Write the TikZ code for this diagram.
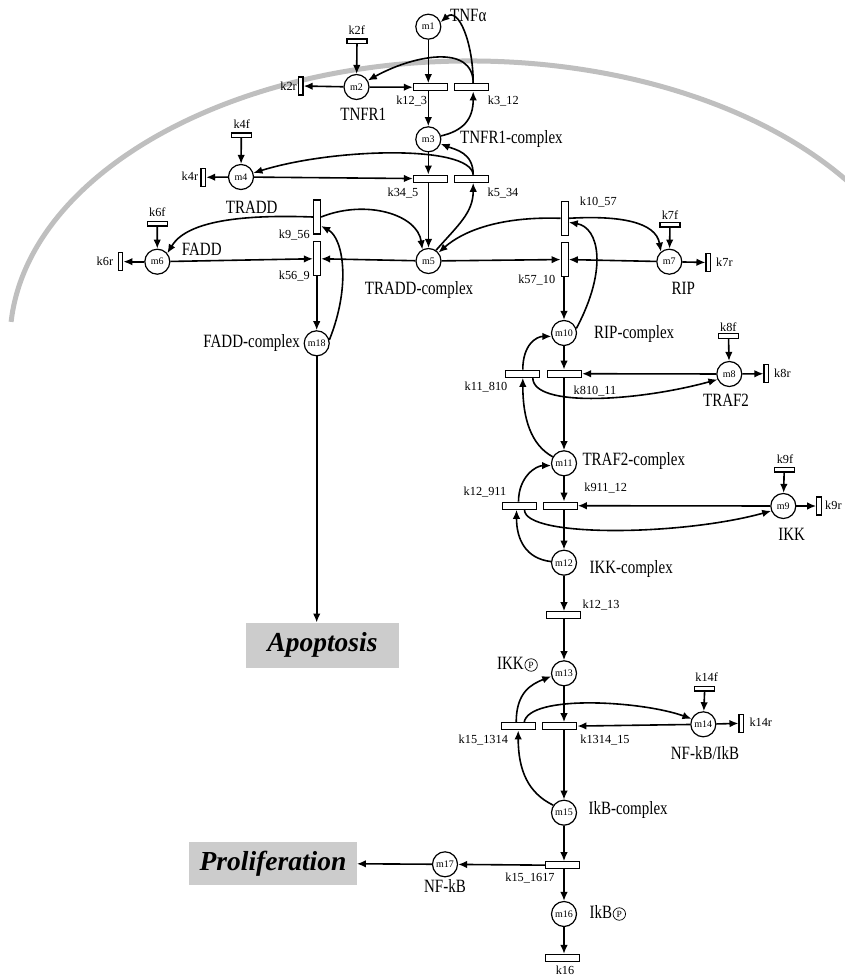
\documentclass[tikz,border=0pt]{standalone}
\usepackage{fontspec}
\setmainfont{Liberation Serif}
\usetikzlibrary{arrows.meta}
\newcommand{\tallt}[1]{\scalebox{1}[1.25]{#1}}

\begin{document}
\begin{tikzpicture}[x=1pt, y=-1pt, >={Latex[length=9pt,width=7.5pt]}]
        \tikzset{place/.style={circle, draw, fill=white, line width=1.2pt, minimum size=25pt, inner sep=0pt, font=\fontsize{10}{10}\selectfont}}
        \tikzset{htrans/.style={draw, fill=white, line width=1.2pt, minimum width=34pt, minimum height=7pt, inner sep=0pt}}
        \tikzset{vtrans/.style={draw, fill=white, line width=1.2pt, minimum width=7pt, minimum height=34pt, inner sep=0pt}}
        \tikzset{src/.style={draw, fill=white, line width=1.2pt, minimum width=20pt, minimum height=4.5pt, inner sep=0pt}}
        \tikzset{sink/.style={draw, fill=white, line width=1.2pt, minimum width=4.5pt, minimum height=18pt, inner sep=0pt}}
        \tikzset{lab/.style={inner sep=0pt, text height=0.83em, text depth=0pt, font=\fontsize{15}{17}\selectfont}}
        \tikzset{klab/.style={inner sep=0pt, text height=0.66em, text depth=0pt, font=\fontsize{12.3}{14}\selectfont}}
        \tikzset{phos/.style={circle, draw, line width=0.7pt, minimum size=12.5pt, inner sep=0pt, font=\fontsize{9.5}{9.5}\selectfont}}
        \tikzset{outcome/.style={fill=black!20, inner sep=0pt, font=\fontsize{27.5}{30}\selectfont\bfseries\itshape}}
        \tikzset{arr/.style={->, line width=1.6pt}}
        \tikzset{membrane/.style={line width=5pt, black!25}}
        \useasboundingbox (0,0) rectangle (844,979);
        % cell membrane
        \draw[membrane] (11.1,321.9) arc[start angle=176, end angle=30, x radius=460pt, y radius=280.5pt];
        % places
        \node[place] (m1) at (428.3,26.7) {m1};
        \node[place] (m2) at (356.5,87) {m2};
        \node[place] (m3) at (428.3,139.3) {m3};
        \node[place] (m4) at (241,177) {m4};
        \node[place] (m5) at (428.5,261) {m5};
        \node[place] (m6) at (157.3,261.7) {m6};
        \node[place] (m7) at (669.3,261.7) {m7};
        \node[place] (m18) at (316.7,343.3) {m18};
        \node[place] (m10) at (564,333) {m10};
        \node[place] (m8) at (729.3,374) {m8};
        \node[place] (m11) at (564,463.3) {m11};
        \node[place] (m9) at (783.3,506) {m9};
        \node[place] (m12) at (564,562.7) {m12};
        \node[place] (m13) at (564,673.3) {m13};
        \node[place] (m14) at (703.3,724.3) {m14};
        \node[place] (m15) at (564,812.7) {m15};
        \node[place] (m17) at (445,864.3) {m17};
        \node[place] (m16) at (564,914) {m16};
        % transitions
        \node[src] (k2f) at (357,41.3) {};
        \node[sink] (k2r) at (300.8,86) {};
        \node[htrans] (k12_3) at (430.5,87.3) {};
        \node[htrans] (k3_12) at (471.7,87.3) {};
        \node[src] (k4f) at (241.3,135.3) {};
        \node[sink] (k4r) at (203.3,177.3) {};
        \node[htrans] (k34_5) at (430.5,178.7) {};
        \node[htrans] (k5_34) at (471.7,178.7) {};
        \node[src] (k6f) at (157.2,223.7) {};
        \node[sink] (k6r) at (120.5,261.7) {};
        \node[vtrans] (k9_56) at (317,217) {};
        \node[vtrans] (k56_9) at (317,258.7) {};
        \node[vtrans] (k10_57) at (564.7,218.3) {};
        \node[vtrans] (k57_10) at (564.7,259.5) {};
        \node[src] (k7f) at (670,224.7) {};
        \node[sink] (k7r) at (708.3,262.5) {};
        \node[src] (k8f) at (728.5,336) {};
        \node[sink] (k8r) at (766.3,373.7) {};
        \node[htrans] (k11_810) at (522.8,373.7) {};
        \node[htrans] (k810_11) at (564.5,373.7) {};
        \node[src] (k9f) at (784.2,469.7) {};
        \node[sink] (k9r) at (819,506) {};
        \node[htrans] (k12_911) at (519.5,505.7) {};
        \node[htrans] (k911_12) at (560.2,505.7) {};
        \node[htrans] (k12_13) at (563.5,615.3) {};
        \node[src] (k14f) at (704.7,688.7) {};
        \node[sink] (k14r) at (741.3,723.3) {};
        \node[htrans] (k15_1314) at (518.2,726.3) {};
        \node[htrans] (k1314_15) at (559.8,726.3) {};
        \node[htrans] (k15_1617) at (562.8,865.3) {};
        \node[htrans] (k16) at (562.2,958) {};
        % outcomes
        \node[outcome, minimum width=153.6pt, minimum height=45pt] (apop) at (322.5,645.2) {Apoptosis};
        \node[outcome, minimum width=167.4pt, minimum height=43.3pt] (prolif) at (273,863.3) {Proliferation};
        % species names
        \node[lab, anchor=west] (lm1) at (450,17) {\tallt{TNFα}};
        \node[lab] (lm2) at (363.3,116.7) {\tallt{TNFR1}};
        \node[lab, anchor=west] (lm3) at (460,139) {\tallt{TNFR1-complex}};
        \node[lab] (lm4) at (251.7,209.3) {\tallt{TRADD}};
        \node[lab, anchor=west] (lm6) at (181.7,251) {\tallt{FADD}};
        \node[lab] (lm5) at (419,290.7) {\tallt{TRADD-complex}};
        \node[lab] (lm7) at (683.3,290) {\tallt{RIP}};
        \node[lab, anchor=east] (lm18) at (300,343.3) {\tallt{FADD-complex}};
        \node[lab, anchor=west] (lm10) at (594,334.3) {\tallt{RIP-complex}};
        \node[lab] (lm8) at (726,402.7) {\tallt{TRAF2}};
        \node[lab, anchor=west] (lm11) at (582.3,461.7) {\tallt{TRAF2-complex}};
        \node[lab] (lm9) at (791.7,536.7) {\tallt{IKK}};
        \node[lab, anchor=west] (lm12) at (589.3,569.3) {\tallt{IKK-complex}};
        \node[lab, anchor=east] (lm13) at (524,665) {\tallt{IKK}};
        \node[phos, anchor=west] (p13) at ([xshift=0.5pt]lm13.east) {P};
        \node[lab] (lm14) at (705,755) {\tallt{NF-kB/IkB}};
        \node[lab, anchor=west] (lm15) at (588.3,810) {\tallt{IkB-complex}};
        \node[lab] (lm17) at (445,888.3) {\tallt{NF-kB}};
        \node[lab, anchor=west] (lm16) at (589.3,914) {\tallt{IkB}};
        \node[phos, anchor=west] (p16) at ([xshift=0.5pt]lm16.east) {P};
        % rate names
        \node[klab] (lk2f) at (356.7,31.7) {k2f};
        \node[klab, anchor=east] (lk2r) at (297,87) {k2r};
        \node[klab] (lk12_3) at (411.7,101.7) {k12\_3};
        \node[klab] (lk3_12) at (503.3,101.7) {k3\_12};
        \node[klab] (lk4f) at (241.7,125) {k4f};
        \node[klab, anchor=east] (lk4r) at (198.3,177.3) {k4r};
        \node[klab] (lk34_5) at (403,193.3) {k34\_5};
        \node[klab] (lk5_34) at (503,193.3) {k5\_34};
        \node[klab] (lk6f) at (157.3,213.3) {k6f};
        \node[klab, anchor=east] (lk6r) at (113.3,261.7) {k6r};
        \node[klab] (lk9_56) at (294.3,235) {k9\_56};
        \node[klab] (lk56_9) at (294.3,275.7) {k56\_9};
        \node[klab] (lk10_57) at (598.3,201.7) {k10\_57};
        \node[klab] (lk57_10) at (536.7,280) {k57\_10};
        \node[klab] (lk7f) at (670,216) {k7f};
        \node[klab, anchor=west] (lk7r) at (716,263.3) {k7r};
        \node[klab] (lk8f) at (728.3,328.3) {k8f};
        \node[klab, anchor=west] (lk8r) at (774,374) {k8r};
        \node[klab] (lk11_810) at (486,387.3) {k11\_810};
        \node[klab] (lk810_11) at (595,390.7) {k810\_11};
        \node[klab] (lk9f) at (785,460) {k9f};
        \node[klab, anchor=west] (lk9r) at (825,506) {k9r};
        \node[klab] (lk12_911) at (485,491.7) {k12\_911};
        \node[klab] (lk911_12) at (605.7,488.3) {k911\_12};
        \node[klab] (lk12_13) at (601,605) {k12\_13};
        \node[klab] (lk14f) at (706.7,678.3) {k14f};
        \node[klab, anchor=west] (lk14r) at (749.3,723.3) {k14r};
        \node[klab] (lk15_1314) at (483.3,740) {k15\_1314};
        \node[klab] (lk1314_15) at (605,740) {k1314\_15};
        \node[klab] (lk15_1617) at (530,878.3) {k15\_1617};
        \node[klab] (lk16) at (565,971) {k16};
        % straight arcs
        \path (m1) edge[arr] (m1 |- k12_3.north);
        \path (m2) edge[arr] (k12_3);
        \path (m2) edge[arr] (k2r);
        \path (k2f) edge[arr] (m2);
        \path (m3 |- k12_3.south) edge[arr] (m3);
        \path (m3) edge[arr] (m3 |- k34_5.north);
        \path (m4) edge[arr] (k34_5);
        \path (m4) edge[arr] (k4r);
        \path (k4f) edge[arr] (m4);
        \path (m5 |- k34_5.south) edge[arr] (m5);
        \path (k6f) edge[arr] (m6);
        \path (m6) edge[arr] (k6r);
        \path (m6) edge[arr] (k56_9);
        \path (m5) edge[arr] (k56_9);
        \path (m18 |- k56_9.south) edge[arr] (m18);
        \path (m18) edge[arr] (m18 |- apop.north);
        \path (m5) edge[arr] (k57_10);
        \path (m7) edge[arr] (k57_10);
        \path (k7f) edge[arr] (m7);
        \path (m7) edge[arr] (k7r);
        \path (m10 |- k57_10.south) edge[arr] (m10);
        \path (m10) edge[arr] (m10 |- k810_11.north);
        \path (m8) edge[arr] (k810_11);
        \path (k8f) edge[arr] (m8);
        \path (m8) edge[arr] (k8r);
        \path (m11 |- k810_11.south) edge[arr] (m11);
        \path (m11) edge[arr] (m11 |- k911_12.north);
        \path (m9) edge[arr] (k911_12);
        \path (k9f) edge[arr] (m9);
        \path (m9) edge[arr] (k9r);
        \path (m12 |- k911_12.south) edge[arr] (m12);
        \path (m12) edge[arr] (m12 |- k12_13.north);
        \path (m13 |- k12_13.south) edge[arr] (m13);
        \path (m13) edge[arr] (m13 |- k1314_15.north);
        \path (m14) edge[arr] (k1314_15);
        \path (k14f) edge[arr] (m14);
        \path (m14) edge[arr] (k14r);
        \path (m15 |- k1314_15.south) edge[arr] (m15);
        \path (m15) edge[arr] (m15 |- k15_1617.north);
        \path (k15_1617) edge[arr] (m17);
        \path (m17) edge[arr] (prolif);
        \path (m16 |- k15_1617.south) edge[arr] (m16);
        \path (m16) edge[arr] (m16 |- k16.north);
        % curved arcs
        \draw[arr] ([xshift=1.5pt]k3_12.north) .. controls +(0,-40) and +(18,-16) .. (m1.20);
        \draw[arr] ([xshift=1.5pt]k3_12.north) .. controls +(0,-40) and +(45,-25) .. (m2.30);
        \draw[arr] (m3.15) .. controls +(22,-5) and +(0,28) .. ([xshift=1.5pt]k3_12.south);
        \draw[arr] ([xshift=1.5pt]k5_34.north) .. controls +(0,-22) and +(15,6) .. (m3.-20);
        \draw[arr] ([xshift=1.5pt]k5_34.north) .. controls +(-3,-30) and +(80,-25) .. (m4.18);
        \draw[arr] (m5.55) .. controls +(22,-25) and +(0,30) .. ([xshift=1.5pt]k5_34.south);
        \draw[arr] (k9_56.west) .. controls +(-80,-3) and +(18,-30) .. (m6.40);
        \draw[arr] (k9_56.east) .. controls +(45,-18) and +(-5,-35) .. (m5.118);
        \draw[arr] (m18.15) .. controls +(22,-55) and +(22,12) .. ([yshift=-9pt]k9_56.east);
        \draw[arr] (k10_57.west) .. controls +(-60,-2) and +(25,-22) .. (m5.40);
        \draw[arr] (k10_57.east) .. controls +(50,-3) and +(-5,-30) .. (m7.130);
        \draw[arr] (m10.20) .. controls +(32,-60) and +(30,5) .. ([yshift=-4pt]k10_57.east);
        \draw[arr] (k11_810.north) .. controls +(0,-25) and +(-15,0) .. (m10.195);
        \draw[arr] ([xshift=10pt]k11_810.south) .. controls +(0,30) and +(-80,22) .. (m8.205);
        \draw[arr] (m11.150) .. controls +(-22,-12) and +(0,40) .. (k11_810.south);
        \draw[arr] ([xshift=-1pt]k12_911.north) .. controls +(0,-25) and +(-15,0) .. (m11.190);
        \draw[arr] ([xshift=5pt]k12_911.south) .. controls +(0,28) and +(-90,25) .. (m9.202);
        \draw[arr] (m12.175) .. controls +(-25,-3) and +(0,30) .. ([xshift=-3pt]k12_911.south);
        \draw[arr] ([xshift=-2pt]k15_1314.north) .. controls +(0,-30) and +(-20,8) .. (m13.193);
        \draw[arr] ([xshift=6pt]k15_1314.north) .. controls +(5,-28) and +(-50,-18) .. (m14.155);
        \draw[arr] (m15.145) .. controls +(-25,-12) and +(0,40) .. (k15_1314.south);
\end{tikzpicture}
\end{document}
